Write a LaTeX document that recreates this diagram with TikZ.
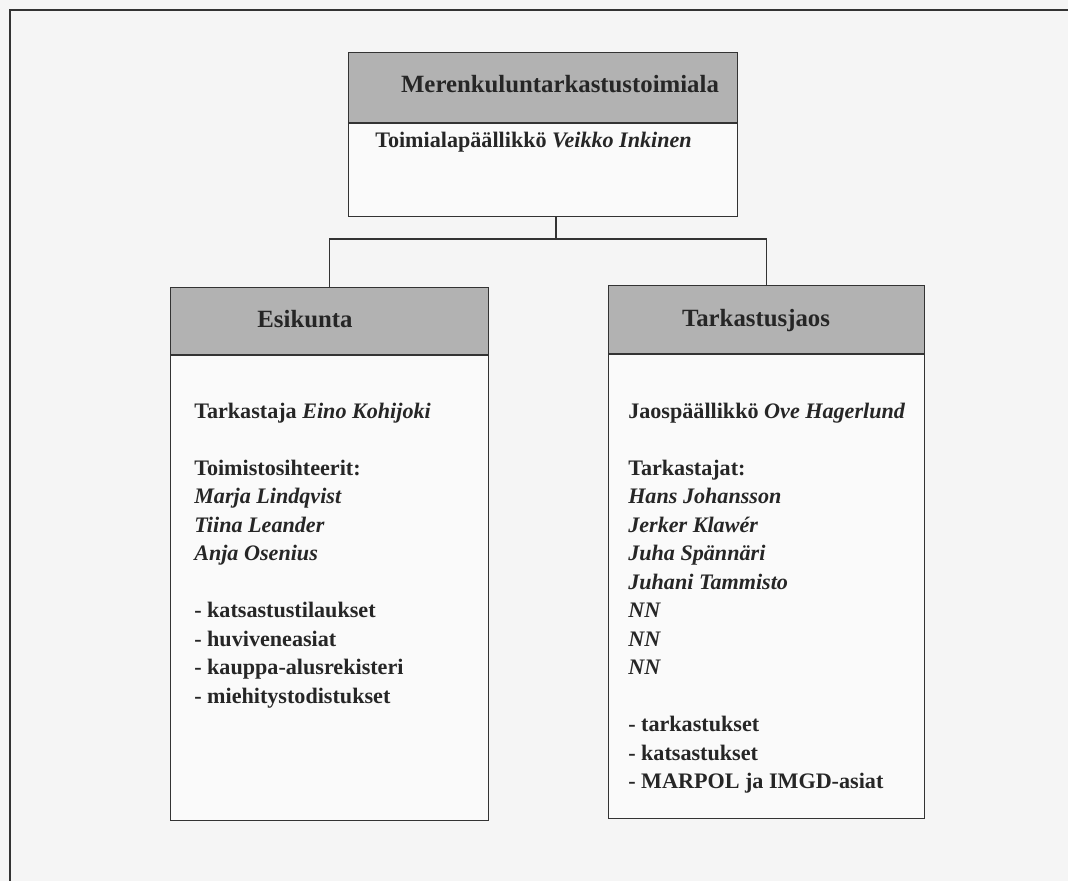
\documentclass[tikz,border=0pt]{standalone}
\usepackage{fontspec}
\setmainfont{Liberation Serif}
\usetikzlibrary{calc}

\tikzset{
  headbox/.style={draw=black!80, line width=0.9pt, fill=black!30, inner sep=0pt},
  bodybox/.style={draw=black!80, line width=0.9pt, fill=black!2, inner sep=0pt},
  headtext/.style={font=\fontsize{18.6pt}{22pt}\selectfont\bfseries, text=black!85, inner sep=0pt, anchor=base},
  rowtext/.style={font=\fontsize{16.6pt}{20pt}\selectfont\bfseries, text=black!85, inner sep=0pt, anchor=base west},
  link/.style={draw=black!80, line width=0.8pt},
  frameline/.style={draw=black!80, line width=1pt}
}

% box with shaded head and plain body: name, left, top, width, head height, body height
\def\orgbox(#1,#2,#3,#4,#5,#6){
  \node[headbox, anchor=north west, minimum width=#4*0.75pt, minimum height=#5*0.75pt] (#1_hd) at (#2,#3) {};
  \node[bodybox, anchor=north, minimum width=#4*0.75pt, minimum height=#6*0.75pt] (#1_bd) at (#1_hd.south) {};
}

\begin{document}
\begin{tikzpicture}[x=0.75pt, y=-0.75pt]
\useasboundingbox (0,0) rectangle (1068,881);
\clip (0,0) rectangle (1068,881);
\fill[black!4] (0,0) rectangle (1068,881);
\draw[frameline] (10,10) rectangle (1100,920);

% toimiala
\orgbox(top,348,52,389,70,93)
\node[headtext] (top_title) at (560,93) {Merenkuluntarkastustoimiala};
\node[rowtext] (top_name) at (375,147) {Toimialapäällikkö \textit{Veikko Inkinen}};

% esikunta
\orgbox(esi,170,287,318,67,465)
\node[headtext] (esi_title) at (305,327) {Esikunta};
\foreach \n/\txt in {0/{Tarkastaja \textit{Eino Kohijoki}}, 2/Toimistosihteerit:,
    3/\textit{Marja Lindqvist}, 4/\textit{Tiina Leander}, 5/\textit{Anja Osenius},
    7/- katsastustilaukset, 8/- huviveneasiat, 9/- kauppa-alusrekisteri,
    10/- miehitystodistukset}
  \node[rowtext] (esi_\n) at (194, {418+28.5*\n}) {\txt};

% tarkastusjaos
\orgbox(tark,608,285,316,68,464)
\node[headtext] (tark_title) at (756,326) {Tarkastusjaos};
\foreach \n/\txt in {0/{Jaospäällikkö \textit{Ove Hagerlund}}, 2/Tarkastajat:,
    3/\textit{Hans Johansson}, 4/\textit{Jerker Klawér}, 5/\textit{Juha Spännäri},
    6/\textit{Juhani Tammisto}, 7/\textit{NN}, 8/\textit{NN}, 9/\textit{NN},
    11/- tarkastukset, 12/- katsastukset, 13/- MARPOL ja IMGD-asiat}
  \node[rowtext] (tark_\n) at (628, {418+28.5*\n}) {\txt};

% connectors
\coordinate (branch) at (556,239);
\draw[link] (top_bd.south -| branch) -- (branch);
\draw[link] (esi_hd.north) |- (branch) -| (tark_hd.north);
\end{tikzpicture}
\end{document}
